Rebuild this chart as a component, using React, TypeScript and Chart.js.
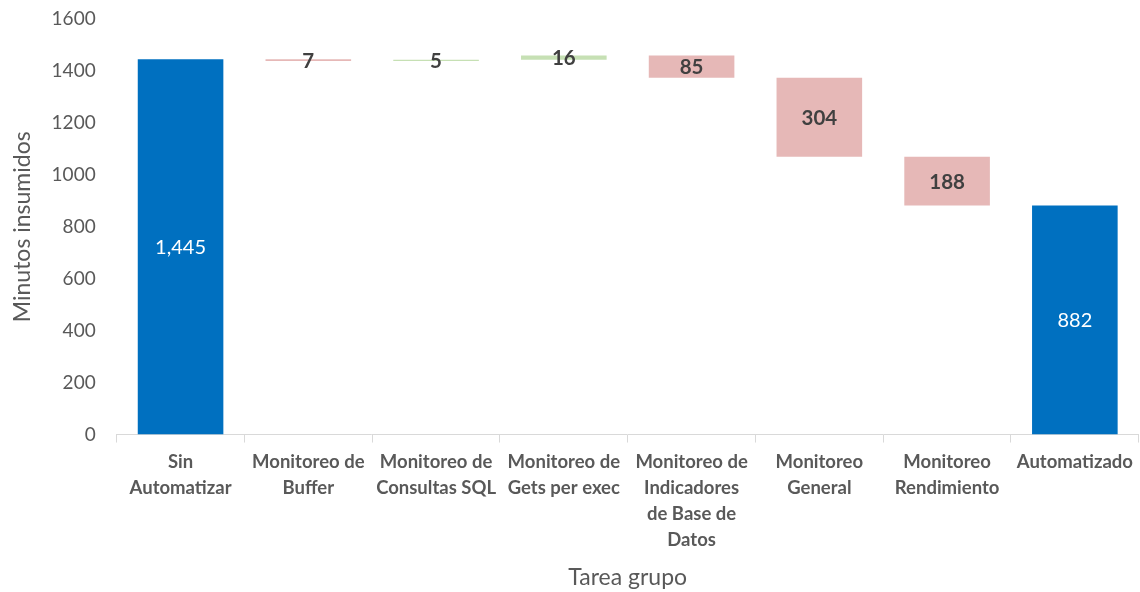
import React, { useEffect, useRef } from "react";
import { Chart, registerables } from "chart.js";

Chart.register(...registerables);

const categories: (string | string[])[] = [
  ["Sin", "Automatizar"],
  ["Monitoreo de", "Buffer"],
  ["Monitoreo de", "Consultas SQL"],
  ["Monitoreo de", "Gets per exec"],
  ["Monitoreo de", "Indicadores", "de Base de", "Datos"],
  ["Monitoreo", "General"],
  ["Monitoreo", "Rendimiento"],
  "Automatizado",
];
// signed change per step; totals are given as absolute values
const deltas: number[] = [1445, -7, 5, 16, -85, -304, -188, 882];
const kinds: string[] = ["total", "delta", "delta", "delta", "delta", "delta", "delta", "total"];
const yTicks: number[] = [0, 200, 400, 600, 800, 1000, 1200, 1400, 1600];

const BLUE = "#0070C0";
const PINK = "#E6B8B7";
const GREEN = "#C6E0B4";
const FONT = "Lato, 'Open Sans', sans-serif";

export default function App() {
  const ref = useRef<HTMLCanvasElement>(null);
  useEffect(() => {
    document.body.style.margin = "0";
    let run = 0;
    const ranges: [number, number][] = [];
    const colors: string[] = [];
    deltas.forEach((d, i) => {
      if (kinds[i] === "total") {
        ranges.push([0, d]);
        run = d;
        colors.push(BLUE);
      } else {
        ranges.push([run, run + d]);
        run += d;
        colors.push(d < 0 ? PINK : GREEN);
      }
    });

    const labelPlugin = {
      id: "wfLabels",
      afterDatasetsDraw(chart: any) {
        const ctx = chart.ctx;
        const meta = chart.getDatasetMeta(0);
        const y = chart.scales.y;
        meta.data.forEach((bar: any, i: number) => {
          const [a, b] = ranges[i];
          const cy = (y.getPixelForValue(a) + y.getPixelForValue(b)) / 2;
          ctx.save();
          ctx.textAlign = "center";
          ctx.textBaseline = "middle";
          if (kinds[i] === "total") {
            ctx.fillStyle = "#FFFFFF";
            ctx.font = `20px ${FONT}`;
            ctx.fillText(Math.abs(deltas[i]).toLocaleString("en-US"), bar.x, cy + 1);
          } else {
            ctx.fillStyle = "#404040";
            ctx.font = `bold 20.5px ${FONT}`;
            ctx.fillText(String(Math.abs(deltas[i])), bar.x, cy + 1);
          }
          ctx.restore();
        });
      },
    };

    const chart = new Chart(ref.current!, {
      type: "bar",
      data: {
        labels: categories,
        datasets: [
          {
            data: ranges as any,
            backgroundColor: colors,
            borderWidth: 0,
            barPercentage: 0.67,
            categoryPercentage: 1,
          },
        ],
      },
      options: {
        responsive: false,
        animation: false,
        plugins: { legend: { display: false }, tooltip: { enabled: false } },
        layout: { padding: { top: 0, right: 1, left: 9, bottom: -3 } },
        scales: {
          x: {
            grid: {
              display: true,
              drawOnChartArea: false,
              drawTicks: true,
              tickLength: 8,
              color: "#D9D9D9",
              offset: true,
            },
            border: { display: true, color: "#D9D9D9", width: 1 },
            ticks: {
              color: "#595959",
              font: { family: FONT, size: 18.5, weight: "bold", lineHeight: 1.39 },
              maxRotation: 0,
              autoSkip: false,
              padding: 7,
            },
            title: {
              display: true,
              text: "Tarea grupo",
              color: "#595959",
              font: { family: FONT, size: 23 },
              padding: { top: 4 },
            },
          },
          y: {
            min: 0,
            max: 1600,
            grid: { display: false },
            border: { display: false },
            afterBuildTicks: (axis: any) => {
              axis.ticks = yTicks.map((v) => ({ value: v }));
            },
            ticks: {
              color: "#595959",
              font: { family: FONT, size: 19, lineHeight: 0.63 },
              padding: 13,
              callback: (v: any) => String(v),
            },
            title: {
              display: true,
              text: "Minutos insumidos",
              color: "#595959",
              font: { family: FONT, size: 23 },
              padding: { top: 0, bottom: 2 },
            },
          },
        },
      },
      plugins: [labelPlugin],
    });
    return () => chart.destroy();
  }, []);
  return <canvas ref={ref} width={1140} height={592} style={{ display: "block" }} />;
}
